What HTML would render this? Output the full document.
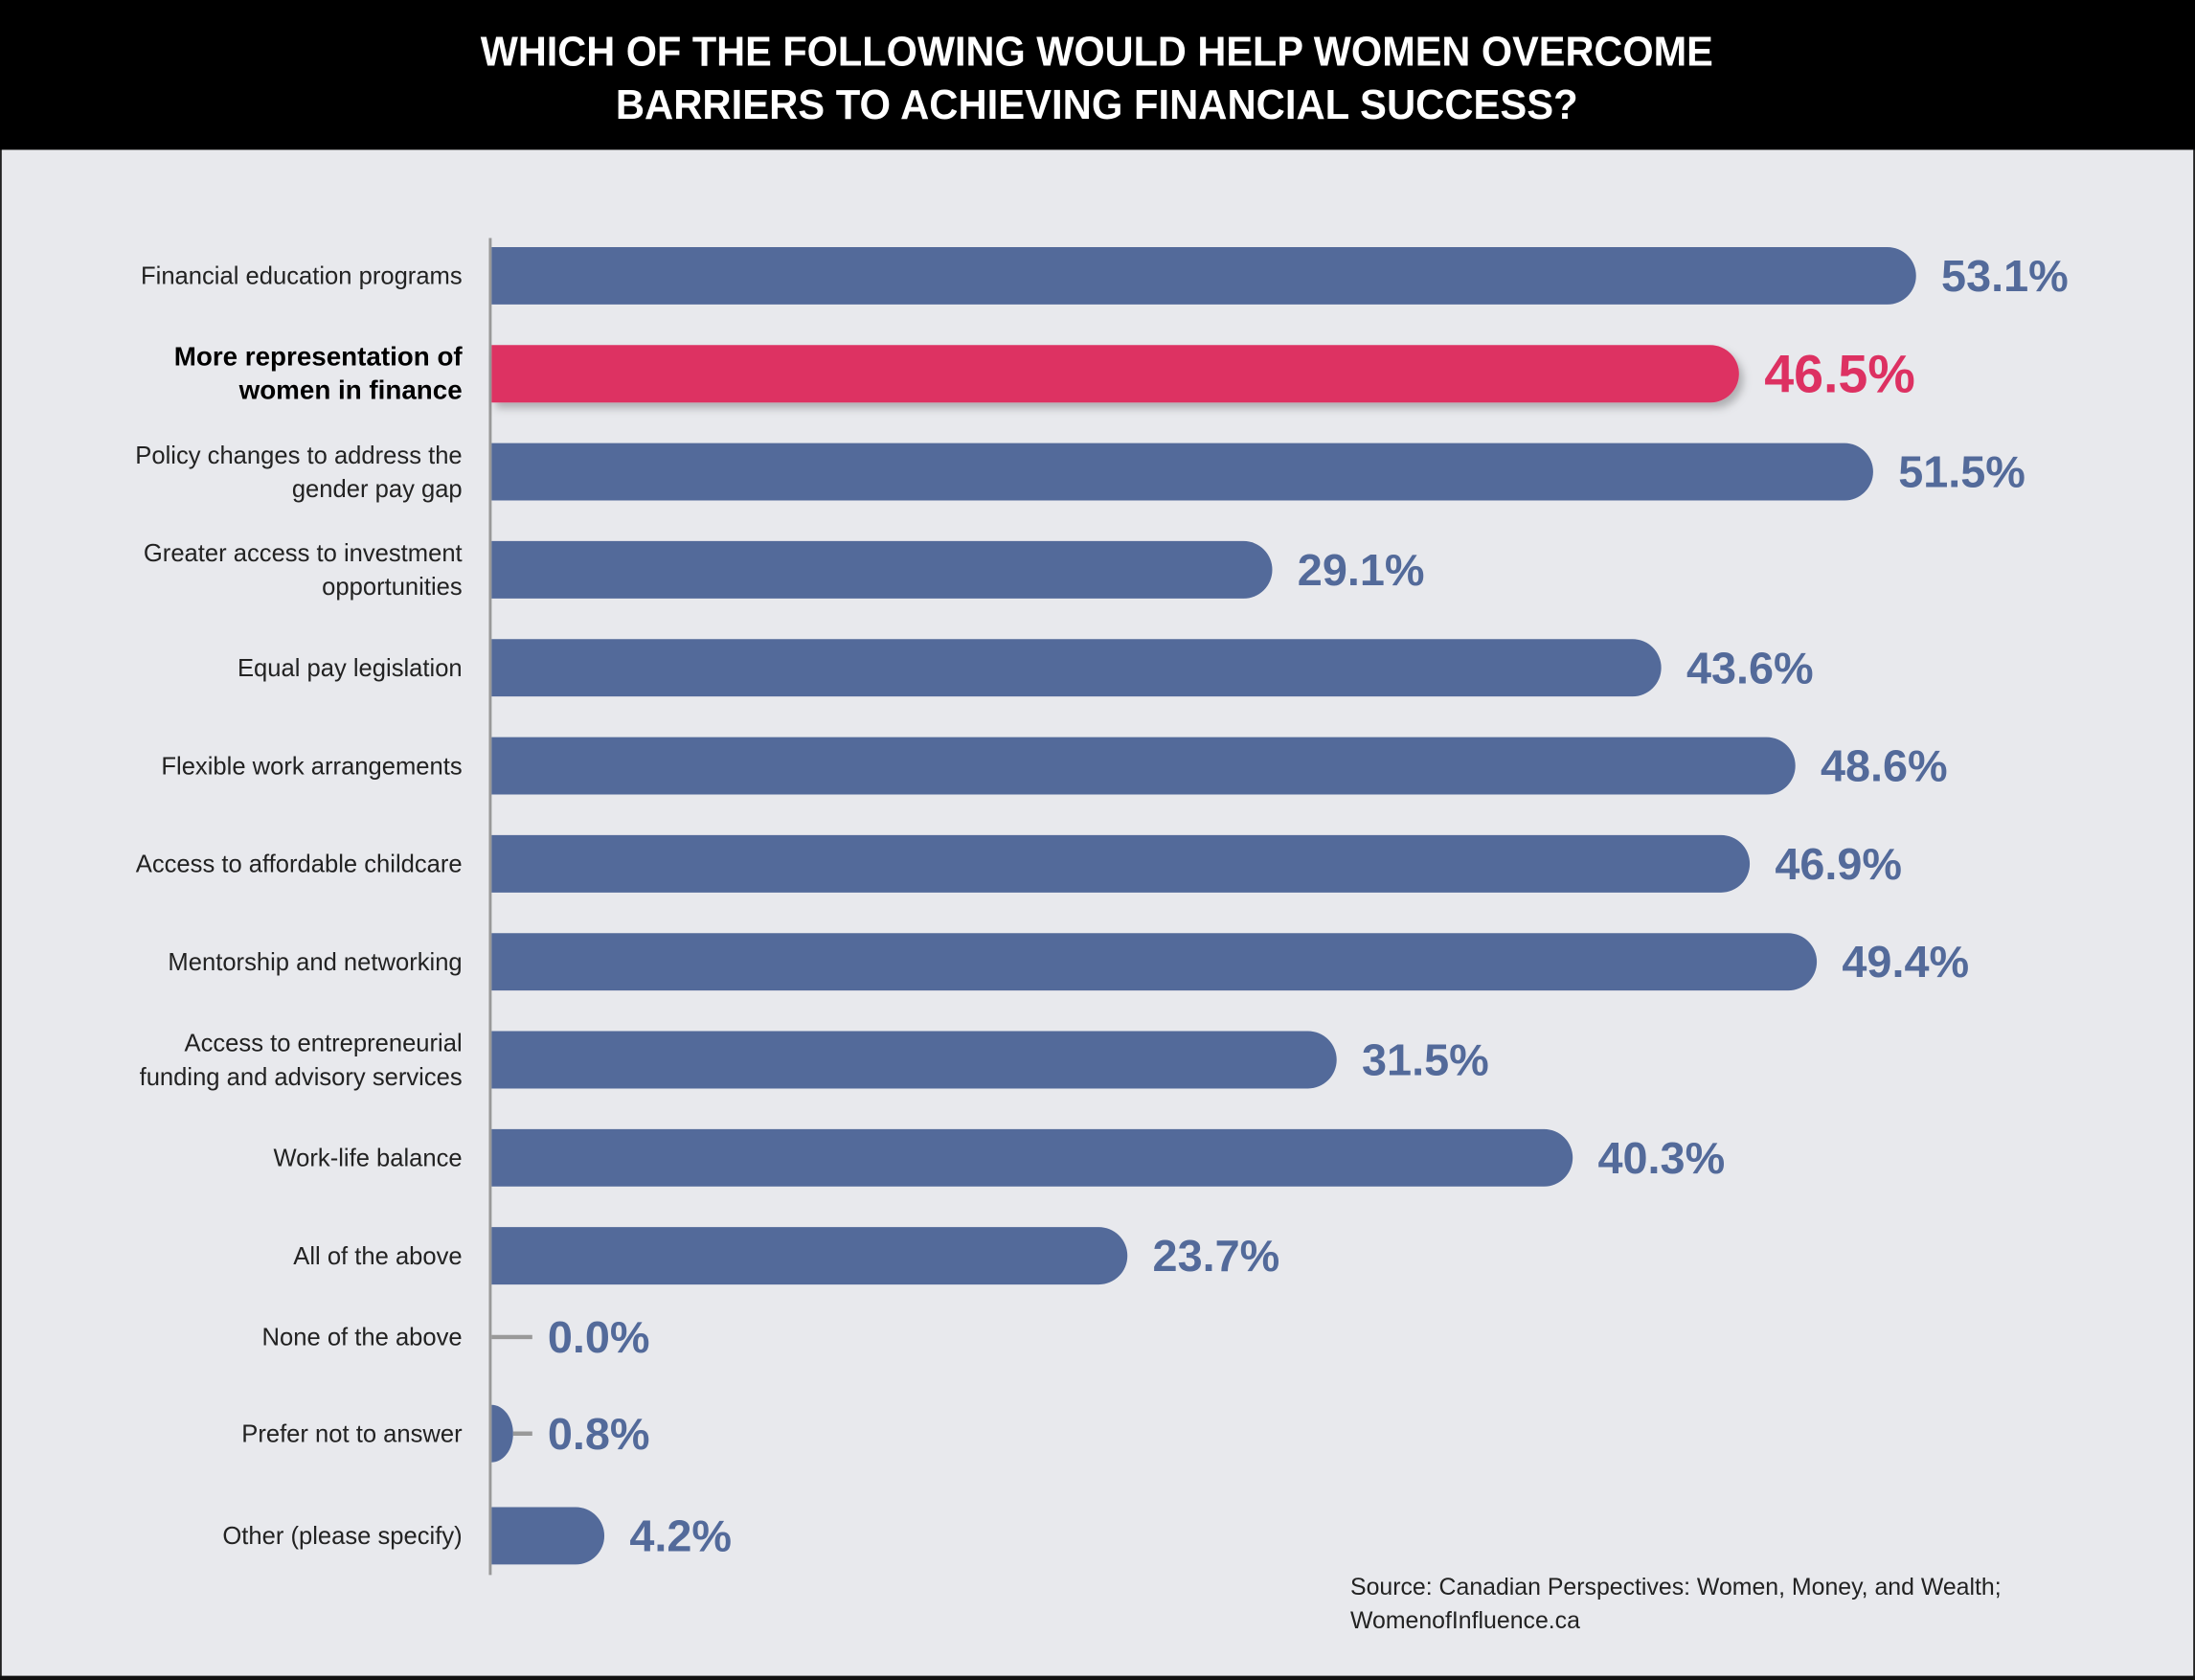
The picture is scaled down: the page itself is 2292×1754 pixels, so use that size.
<!DOCTYPE html>
<html><head><meta charset="utf-8"><style>
html,body{margin:0;padding:0;background:#e8e9ed;}
svg{display:block;}
</style></head><body>
<svg width="2292" height="1754" viewBox="0 0 1567 1200" preserveAspectRatio="none" xmlns="http://www.w3.org/2000/svg" font-family="'Liberation Sans', sans-serif">
<defs><filter id="sh" x="-5%" y="-30%" width="115%" height="180%"><feDropShadow dx="3" dy="4" stdDeviation="3" flood-color="#000" flood-opacity="0.25"/></filter></defs>
<rect x="0" y="0" width="1567" height="1200" fill="#e8e9ed"/>
<rect x="0.5" y="0" width="1566" height="1198.5" fill="none" stroke="#222" stroke-width="1.5"/>
<rect x="0" y="1197" width="1567" height="3" fill="#111"/>
<rect x="0" y="0" width="1567" height="107" fill="#000"/>
<text x="783" y="47" text-anchor="middle" fill="#fff" font-size="30" font-weight="bold" textLength="880" lengthAdjust="spacingAndGlyphs">WHICH OF THE FOLLOWING WOULD HELP WOMEN OVERCOME</text>
<text x="783" y="85" text-anchor="middle" fill="#fff" font-size="30" font-weight="bold" textLength="687" lengthAdjust="spacingAndGlyphs">BARRIERS TO ACHIEVING FINANCIAL SUCCESS?</text>
<line x1="350" y1="170" x2="350" y2="1125" stroke="#999" stroke-width="2"/>
<g id="bars"></g>
<text x="964" y="1139" font-size="17" fill="#222">Source: Canadian Perspectives: Women, Money, and Wealth;</text>
<text x="964" y="1163" font-size="17" fill="#222">WomenofInfluence.ca</text>
</svg>
<script>
const categories = [["Financial education programs"],["More representation of","women in finance"],["Policy changes to address the","gender pay gap"],["Greater access to investment","opportunities"],["Equal pay legislation"],["Flexible work arrangements"],["Access to affordable childcare"],["Mentorship and networking"],["Access to entrepreneurial","funding and advisory services"],["Work-life balance"],["All of the above"],["None of the above"],["Prefer not to answer"],["Other (please specify)"]];
const values = [53.1,46.5,51.5,29.1,43.6,48.6,46.9,49.4,31.5,40.3,23.7,0.0,0.8,4.2];
const valueLabels = ["53.1%","46.5%","51.5%","29.1%","43.6%","48.6%","46.9%","49.4%","31.5%","40.3%","23.7%","0.0%","0.8%","4.2%"];
const highlightIndex = 1;
const rowCenters = [197,267,337,407,477,547,617,687,757,827,897,955,1024,1097];
const X0 = 351, PXPER = 19.15, BH = 41;
function xScale(v){ return X0 + v * PXPER; }
const NS = "http://www.w3.org/2000/svg";
const g = document.getElementById('bars');
function mk(t, a){ const e = document.createElementNS(NS, t); for (const k in a) e.setAttribute(k, a[k]); return e; }
values.forEach((v, i) => {
  const cy = rowCenters[i], hi = i === highlightIndex;
  const col = hi ? '#dd3162' : '#536a9a';
  const xe = xScale(v), w = xe - X0;
  if (w > 0) {
    const r = Math.min(BH/2, w);
    const d = `M${X0},${cy-BH/2} H${xe-r} A${r},${BH/2} 0 0 1 ${xe-r},${cy+BH/2} H${X0} Z`;
    const p = mk('path', {d: d, fill: col});
    if (hi) p.setAttribute('filter', 'url(#sh)');
    
    
    g.appendChild(p);
  }
  let lx = xe + 18;
  if (w < 30) {
    const tk = mk('line', {x1: Math.max(X0, xe), y1: cy, x2: 380, y2: cy, stroke: '#999', 'stroke-width': 3});
    
    
    g.appendChild(tk);
    lx = 391;
  }
  const vt = mk('text', {x: lx, y: cy + (hi ? 13 : 11), fill: col, 'font-size': hi ? 38 : 32, 'font-weight': 'bold'});
  vt.textContent = valueLabels[i];
  
  
  g.appendChild(vt);
  const lines = categories[i];
  const ct = mk('text', {'text-anchor': 'end', fill: hi ? '#000' : '#222', 'font-size': hi ? 19 : 17.5, 'font-weight': hi ? 'bold' : 'normal'});
  
  
  lines.forEach((s, j) => {
    const ts = mk('tspan', {x: 330, y: cy + 6 + (j - (lines.length - 1) / 2) * 24});
    ts.textContent = s;
    ct.appendChild(ts);
  });
  g.appendChild(ct);
});
</script>
</body></html>
